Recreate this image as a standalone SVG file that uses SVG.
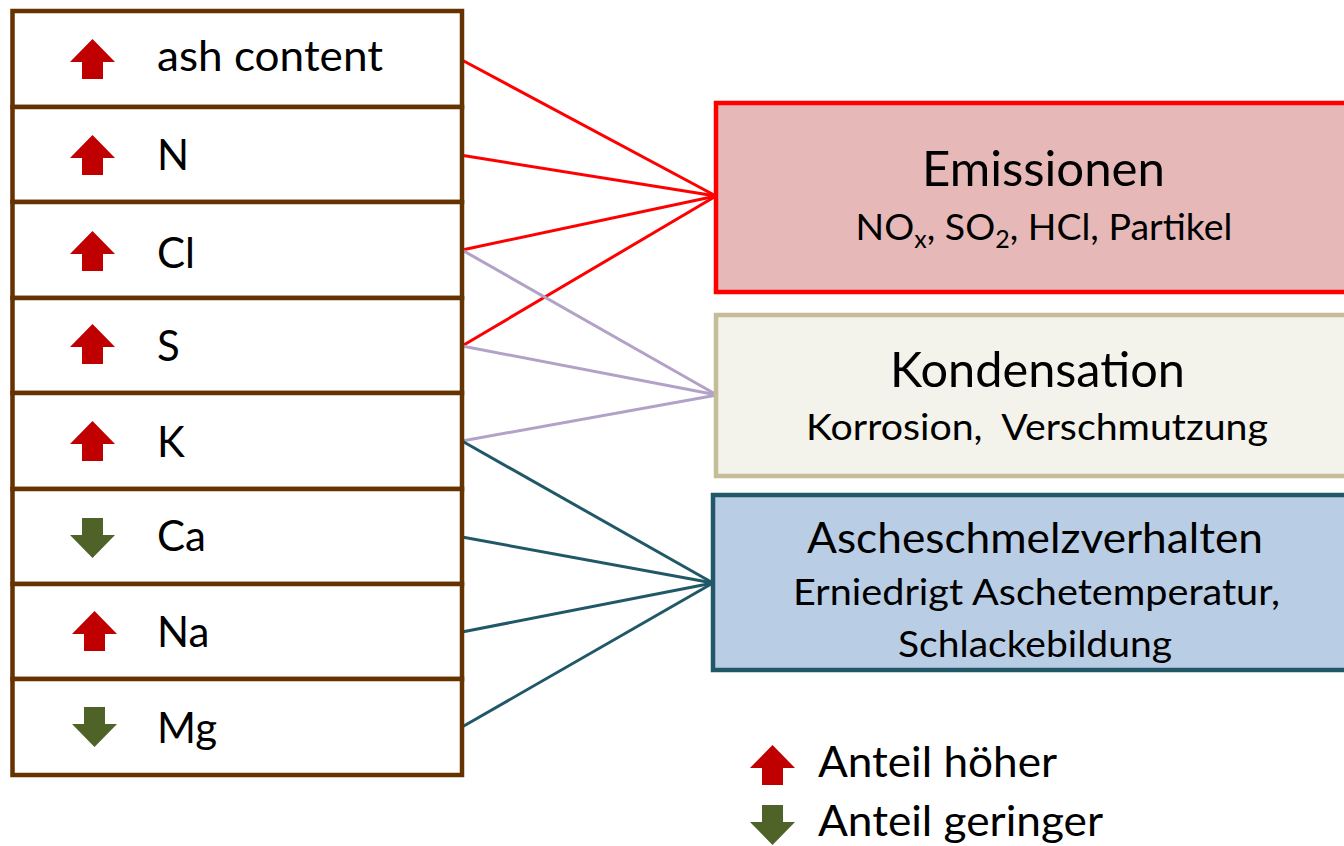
<svg xmlns="http://www.w3.org/2000/svg" width="1344" height="846" viewBox="0 0 1344 846">
<style>
.row{fill:#ffffff;stroke:#663300;stroke-width:4.5}
.lbl{font-family:Lato,"Liberation Sans",sans-serif;font-size:42px;fill:#000}
.ttl{font-family:Lato,"Liberation Sans",sans-serif;font-size:47.5px;fill:#000;text-anchor:middle}
.sub{font-family:Lato,"Liberation Sans",sans-serif;font-size:37.5px;fill:#000;text-anchor:middle}
.up{fill:#C00000}
.dn{fill:#4F6228}
.cr{stroke:#FF0000;stroke-width:3;fill:none}
.cp{stroke:#B3A2C7;stroke-width:3;fill:none}
.ct{stroke:#215868;stroke-width:3;fill:none}
</style>
<defs>
<path id="upArrow" d="M22.5,0 L45,23 L33,23 L33,40 L12,40 L12,23 L0,23 Z"/>
<path id="dnArrow" d="M12,0 L33,0 L33,17 L45,17 L22.5,40 L0,17 L12,17 Z"/>
</defs>
<rect width="1344" height="846" fill="#ffffff"/>
<g id="connectors">
<line class="cr" x1="460" y1="59" x2="716" y2="196"/>
<line class="cr" x1="460" y1="155" x2="716" y2="196"/>
<line class="cr" x1="462" y1="250" x2="716" y2="196"/>
<line class="cr" x1="462" y1="346" x2="716" y2="196"/>
<line class="cp" x1="462" y1="250" x2="717" y2="395"/>
<line class="cp" x1="462" y1="346" x2="717" y2="395"/>
<line class="cp" x1="462" y1="441" x2="717" y2="395"/>
<line class="ct" x1="462" y1="441" x2="713" y2="583"/>
<line class="ct" x1="462" y1="537" x2="713" y2="583"/>
<line class="ct" x1="462" y1="632" x2="713" y2="583"/>
<line class="ct" x1="462" y1="727" x2="713" y2="583"/>
</g>
<g id="row-ash">
<rect class="row" x="12.5" y="11" width="449.5" height="96"/>
<use href="#upArrow" class="up" x="70" y="39"/>
<text class="lbl" x="157" y="71" textLength="226" lengthAdjust="spacingAndGlyphs">ash content</text>
</g>
<g id="row-N">
<rect class="row" x="12.5" y="107" width="449.5" height="95"/>
<use href="#upArrow" class="up" x="70" y="135"/>
<text class="lbl" x="157" y="170">N</text>
</g>
<g id="row-Cl">
<rect class="row" x="12.5" y="202" width="449.5" height="96"/>
<use href="#upArrow" class="up" x="70" y="231"/>
<text class="lbl" x="157" y="268">Cl</text>
</g>
<g id="row-S">
<rect class="row" x="12.5" y="298" width="449.5" height="95"/>
<use href="#upArrow" class="up" x="70" y="324"/>
<text class="lbl" x="157" y="361">S</text>
</g>
<g id="row-K">
<rect class="row" x="12.5" y="393" width="449.5" height="96"/>
<use href="#upArrow" class="up" x="70" y="421"/>
<text class="lbl" x="157" y="457">K</text>
</g>
<g id="row-Ca">
<rect class="row" x="12.5" y="489" width="449.5" height="95"/>
<use href="#dnArrow" class="dn" x="70" y="518"/>
<text class="lbl" x="157" y="551">Ca</text>
</g>
<g id="row-Na">
<rect class="row" x="12.5" y="584" width="449.5" height="95"/>
<use href="#upArrow" class="up" x="72" y="611"/>
<text class="lbl" x="157" y="647">Na</text>
</g>
<g id="row-Mg">
<rect class="row" x="12.5" y="679" width="449.5" height="96"/>
<use href="#dnArrow" class="dn" x="72" y="707"/>
<text class="lbl" x="157" y="743">Mg</text>
</g>
<g id="box-emissionen">
<rect x="716" y="103" width="680" height="189" fill="#E6B9B8" stroke="#FF0000" stroke-width="4.5"/>
<text class="ttl" x="1043.5" y="186" textLength="243" lengthAdjust="spacingAndGlyphs">Emissionen</text>
<text class="sub" x="1044" y="240">NO<tspan font-size="25px" dy="8">x</tspan><tspan dy="-8">, SO</tspan><tspan font-size="25px" dy="8">2</tspan><tspan dy="-8">, HCl, Partikel</tspan></text>
</g>
<g id="box-kondensation">
<rect x="716" y="315" width="680" height="161" fill="#F3F2EB" stroke="#C4BD97" stroke-width="4.5"/>
<text class="ttl" x="1037.5" y="387" textLength="295" lengthAdjust="spacingAndGlyphs">Kondensation</text>
<text class="sub" x="1037" y="440" style="white-space:pre" textLength="462" lengthAdjust="spacingAndGlyphs">Korrosion,  Verschmutzung</text>
</g>
<g id="box-ascheschmelz">
<rect x="713" y="495" width="680" height="175" fill="#B9CDE5" stroke="#215868" stroke-width="4.5"/>
<text class="ttl" x="1035" y="553" style="font-size:42.5px" textLength="456" lengthAdjust="spacingAndGlyphs">Ascheschmelzverhalten</text>
<text class="sub" x="1036.5" y="605" textLength="487" lengthAdjust="spacingAndGlyphs">Erniedrigt Aschetemperatur,</text>
<text class="sub" x="1035" y="657" textLength="274" lengthAdjust="spacingAndGlyphs">Schlackebildung</text>
</g>
<g id="legend">
<use href="#upArrow" class="up" x="750" y="745"/>
<text class="lbl" x="818" y="777" textLength="239" lengthAdjust="spacingAndGlyphs">Anteil höher</text>
<use href="#dnArrow" class="dn" x="750" y="805"/>
<text class="lbl" x="818" y="836" textLength="285" lengthAdjust="spacingAndGlyphs">Anteil geringer</text>
</g>
</svg>
